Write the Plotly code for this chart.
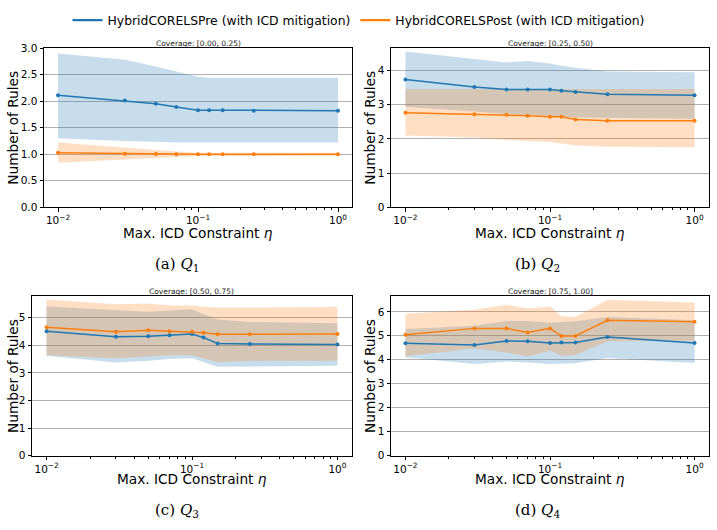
import plotly.graph_objects as go

W, H = 717, 530

eta = [0.01, 0.03, 0.05, 0.07, 0.1, 0.12, 0.15, 0.25, 1.0]

# Q1  coverage [0.00, 0.25)
q1_pre_mean = [2.11, 2.01, 1.95, 1.89, 1.83, 1.83, 1.83, 1.82, 1.82]
q1_pre_hi = [2.895, 2.78, 2.65, 2.56, 2.46, 2.44, 2.44, 2.44, 2.44]
q1_pre_lo = [1.30, 1.25, 1.235, 1.22, 1.22, 1.22, 1.22, 1.22, 1.22]
q1_post_mean = [1.03, 1.01, 1.005, 1.0, 1.0, 1.0, 1.0, 1.0, 1.0]
q1_post_hi = [1.22, 1.12, 1.08, 1.05, 1.03, 1.03, 1.03, 1.03, 1.03]
q1_post_lo = [0.84, 0.91, 0.93, 0.95, 0.965, 0.97, 0.97, 0.97, 0.97]

# Q2  coverage [0.25, 0.50)
q2_pre_mean = [3.74, 3.52, 3.45, 3.45, 3.45, 3.41, 3.375, 3.31, 3.28]
q2_pre_hi = [4.56, 4.34, 4.24, 4.28, 4.21, 4.14, 4.08, 3.97, 3.95]
q2_pre_lo = [2.94, 2.80, 2.72, 2.70, 2.68, 2.66, 2.63, 2.62, 2.59]
q2_post_mean = [2.77, 2.72, 2.71, 2.68, 2.65, 2.65, 2.57, 2.53, 2.53]
q2_post_hi = [3.46, 3.46, 3.46, 3.46, 3.46, 3.46, 3.46, 3.46, 3.46]
q2_post_lo = [2.10, 2.04, 1.97, 1.94, 1.91, 1.86, 1.81, 1.77, 1.76]

# Q3  coverage [0.50, 0.75)
q3_pre_mean = [4.51, 4.31, 4.33, 4.37, 4.41, 4.28, 4.07, 4.05, 4.03]
q3_pre_hi = [5.41, 5.27, 5.22, 5.26, 5.31, 5.13, 4.94, 4.85, 4.80]
q3_pre_lo = [3.62, 3.38, 3.44, 3.50, 3.53, 3.40, 3.22, 3.25, 3.26]
q3_post_mean = [4.66, 4.49, 4.55, 4.51, 4.49, 4.46, 4.40, 4.40, 4.41]
q3_post_hi = [5.66, 5.49, 5.52, 5.45, 5.45, 5.40, 5.37, 5.37, 5.39]
q3_post_lo = [3.64, 3.53, 3.59, 3.64, 3.64, 3.52, 3.39, 3.44, 3.44]

# Q4  coverage [0.75, 1.00]
q4_pre_mean = [4.69, 4.62, 4.78, 4.77, 4.70, 4.72, 4.72, 4.95, 4.70]
q4_pre_hi = [5.28, 5.42, 5.62, 5.62, 5.55, 5.58, 5.61, 5.78, 5.65]
q4_pre_lo = [4.11, 3.82, 3.93, 3.89, 3.82, 3.85, 3.85, 4.07, 3.86]
q4_post_mean = [5.04, 5.31, 5.31, 5.14, 5.31, 4.99, 4.99, 5.65, 5.59]
q4_post_hi = [5.92, 6.09, 6.30, 6.14, 6.22, 5.82, 5.78, 6.51, 6.39]
q4_post_lo = [4.15, 4.47, 4.30, 4.14, 4.38, 4.16, 4.20, 4.77, 4.78]

titles = ["Coverage: [0.00, 0.25)", "Coverage: [0.25, 0.50)",
          "Coverage: [0.50, 0.75)", "Coverage: [0.75, 1.00]"]
captions = ["(a) <i>Q</i><sub>1</sub>", "(b) <i>Q</i><sub>2</sub>",
            "(c) <i>Q</i><sub>3</sub>", "(d) <i>Q</i><sub>4</sub>"]
y_ticks = [[0, 0.5, 1.0, 1.5, 2.0, 2.5, 3.0], [0, 1, 2, 3, 4],
           [0, 1, 2, 3, 4, 5], [0, 1, 2, 3, 4, 5, 6]]
y_tickfmt = [".1f", "d", "d", "d"]
y_max = [3.0, 4.66, 5.78, 6.65]
x_tickvals = [0.01, 0.1, 1.0]
x_ticktext = ["10<sup>−2</sup>", "10<sup>−1</sup>", "10<sup>0</sup>"]
minor_vals = [0.02, 0.03, 0.04, 0.05, 0.06, 0.07, 0.08, 0.09,
              0.2, 0.3, 0.4, 0.5, 0.6, 0.7, 0.8, 0.9]

series = [
    (q1_pre_mean, q1_pre_lo, q1_pre_hi, q1_post_mean, q1_post_lo, q1_post_hi),
    (q2_pre_mean, q2_pre_lo, q2_pre_hi, q2_post_mean, q2_post_lo, q2_post_hi),
    (q3_pre_mean, q3_pre_lo, q3_pre_hi, q3_post_mean, q3_post_lo, q3_post_hi),
    (q4_pre_mean, q4_pre_lo, q4_pre_hi, q4_post_mean, q4_post_lo, q4_post_hi),
]

BLUE = "#1f77b4"
ORANGE = "#ff7f0e"
BLUE_F = "rgba(31,119,180,0.25)"
ORANGE_F = "rgba(255,127,14,0.25)"
FONT = "DejaVu Sans"

# pixel boxes of plot areas (left, right, top, bottom)
boxes = [(44, 352, 43, 206), (391, 709, 43, 206),
         (32, 352, 297, 460), (391, 709, 297, 460)]
ylab_x = [13, 370, 13, 370]
title_y = [38, 38, 292, 292]
xlab_y = [232, 232, 484, 484]
cap_pos = [(177, 264), (537, 264), (177, 516), (537, 516)]

fig = go.Figure()
layout = dict(
    width=W, height=H, margin=dict(l=0, r=0, t=0, b=0),
    paper_bgcolor="white", plot_bgcolor="white",
    font=dict(family=FONT, color="black"),
    showlegend=True,
    legend=dict(orientation="h", x=0.5, xanchor="center", y=1 - 15 / H,
                yanchor="middle", font=dict(size=12.4, family=FONT),
                itemwidth=30, tracegroupgap=0, bgcolor="rgba(0,0,0,0)"),
)
annotations = []

for i, (pm, pl, ph, qm, ql, qh) in enumerate(series):
    n = i + 1
    xa = "x" if n == 1 else f"x{n}"
    ya = "y" if n == 1 else f"y{n}"
    # bands
    fig.add_trace(go.Scatter(x=eta + eta[::-1], y=ph + pl[::-1], fill="toself",
                             fillcolor=BLUE_F, line=dict(width=0), mode="lines",
                             showlegend=False, hoverinfo="skip", xaxis=xa, yaxis=ya))
    fig.add_trace(go.Scatter(x=eta + eta[::-1], y=qh + ql[::-1], fill="toself",
                             fillcolor=ORANGE_F, line=dict(width=0), mode="lines",
                             showlegend=False, hoverinfo="skip", xaxis=xa, yaxis=ya))
    # lines
    fig.add_trace(go.Scatter(x=eta, y=pm, mode="lines+markers",
                             line=dict(color=BLUE, width=1.5),
                             marker=dict(size=4, color=BLUE),
                             showlegend=False, xaxis=xa, yaxis=ya))
    fig.add_trace(go.Scatter(x=eta, y=qm, mode="lines+markers",
                             line=dict(color=ORANGE, width=1.5),
                             marker=dict(size=4, color=ORANGE),
                             showlegend=False, xaxis=xa, yaxis=ya))

    l, r, t, b = boxes[i]
    key_x = "xaxis" if n == 1 else f"xaxis{n}"
    key_y = "yaxis" if n == 1 else f"yaxis{n}"
    layout[key_x] = dict(
        type="log", domain=[l / W, r / W], anchor=ya, range=[-2.1, 0.1],
        tickvals=x_tickvals, ticktext=x_ticktext, ticks="outside", ticklen=3.5,
        tickwidth=0.8, tickcolor="black", showgrid=False, zeroline=False,
        showline=True, linecolor="black", linewidth=1, mirror=True,
        tickfont=dict(size=10.5, family=FONT),
        minor=dict(tickvals=minor_vals, ticks="outside", ticklen=2,
                   tickwidth=0.6, tickcolor="black", showgrid=False),
    )
    layout[key_y] = dict(
        domain=[1 - b / H, 1 - t / H], anchor=xa, range=[0, y_max[i]],
        tickvals=y_ticks[i], tickformat=y_tickfmt[i], ticks="outside",
        ticklen=3.5, tickwidth=0.8, tickcolor="black",
        showgrid=True, gridcolor="#b0b0b0", gridwidth=1, zeroline=False,
        showline=True, linecolor="black", linewidth=1, mirror=True,
        tickfont=dict(size=10.5, family=FONT),
    )
    cx = (l + r) / 2
    annotations.append(dict(text=titles[i], x=cx / W, y=1 - title_y[i] / H,
                            xref="paper", yref="paper", showarrow=False,
                            xanchor="center", yanchor="middle",
                            font=dict(size=7.5, family=FONT, color="#222")))
    annotations.append(dict(text="Max. ICD Constraint <i>η</i>", x=cx / W,
                            y=1 - xlab_y[i] / H, xref="paper", yref="paper",
                            showarrow=False, xanchor="center", yanchor="middle",
                            font=dict(size=13.7, family=FONT)))
    annotations.append(dict(text="Number of Rules", x=ylab_x[i] / W,
                            y=1 - ((t + b) / 2) / H, xref="paper", yref="paper",
                            showarrow=False, xanchor="center", yanchor="middle",
                            textangle=-90, font=dict(size=13.7, family=FONT)))
    cxp, cyp = cap_pos[i]
    annotations.append(dict(text=captions[i], x=cxp / W, y=1 - cyp / H,
                            xref="paper", yref="paper", showarrow=False,
                            xanchor="center", yanchor="middle",
                            font=dict(size=15, family="DejaVu Serif")))

# legend-only entries
fig.add_trace(go.Scatter(x=[None], y=[None], mode="lines",
                         line=dict(color=BLUE, width=2.2),
                         name="HybridCORELSPre (with ICD mitigation)"))
fig.add_trace(go.Scatter(x=[None], y=[None], mode="lines",
                         line=dict(color=ORANGE, width=2.2),
                         name="HybridCORELSPost (with ICD mitigation)"))

layout["annotations"] = annotations
fig.update_layout(**layout)
fig.write_html("out.html")
